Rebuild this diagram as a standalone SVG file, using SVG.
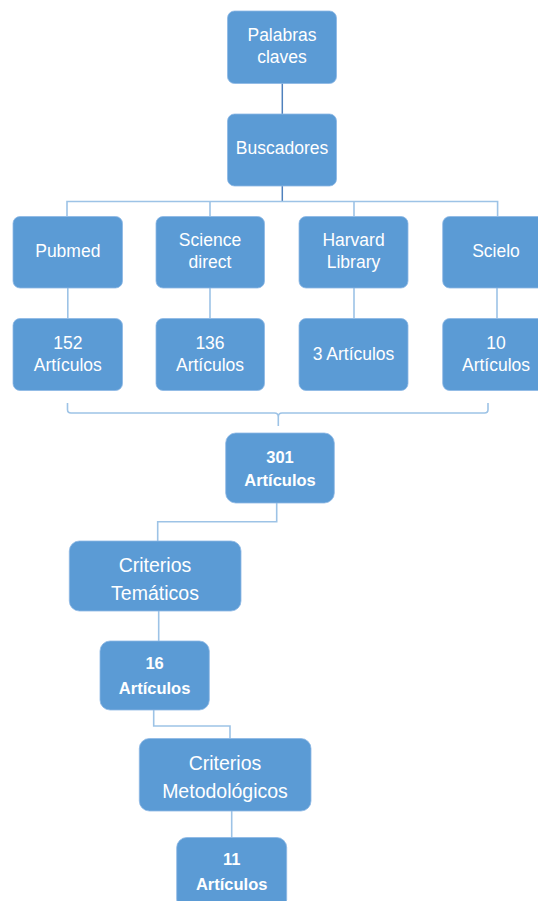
<svg xmlns="http://www.w3.org/2000/svg" width="538" height="901" viewBox="0 0 538 901">
<style>
.box{fill:#5B9BD5;stroke:#8DB8E4;stroke-width:0.8}
.t{fill:#FFFFFF;font-family:"Liberation Sans",Arial,sans-serif;font-size:17.5px;text-anchor:middle}
.b{font-weight:bold;font-size:16.5px}
.big{font-size:19.5px}
.dark{fill:none;stroke:#4F81BD;stroke-width:1.5}
.light{fill:none;stroke:#9DC3E6;stroke-width:1.6}
</style>
<rect width="538" height="901" fill="#FFFFFF"/>
<g id="connectors">
<path class="dark" d="M282.3,83 V114"/>
<path class="dark" d="M282.3,186 V201"/>
<path class="light" d="M67,216 V201.5 H497.6 V216 M210,201.5 V216 M354,201.5 V216"/>
<path class="light" d="M67.8,288 V318 M210,288 V318 M354,288 V318 M497,288 V318"/>
<path class="light" d="M67.5,403 V409.5 Q67.5,413 71,413 H274.5 Q278.3,413 278.3,417 V426 M278.3,417 Q278.3,413 282,413 H484.5 Q488,413 488,409.5 V403"/>
<path class="light" d="M276.7,503 V521.7 H157.7 V541"/>
<path class="light" d="M158.7,611 V641"/>
<path class="light" d="M153.7,710 V726 H230 V738.5"/>
<path class="light" d="M231.7,811 V837.5"/>
</g>
<g id="palabras">
<rect class="box" x="227.5" y="11" width="109" height="72.5" rx="7"/>
<text class="t" x="282" y="41">Palabras</text>
<text class="t" x="282" y="63">claves</text>
</g>
<g id="buscadores">
<rect class="box" x="227.5" y="114" width="109" height="72" rx="7"/>
<text class="t" x="282" y="154">Buscadores</text>
</g>
<g id="pubmed">
<rect class="box" x="13" y="216.5" width="109.5" height="71.5" rx="7"/>
<text class="t" x="67.8" y="257">Pubmed</text>
</g>
<g id="sciencedirect">
<rect class="box" x="156" y="216.5" width="108.5" height="71.5" rx="7"/>
<text class="t" x="210" y="246">Science</text>
<text class="t" x="210" y="268">direct</text>
</g>
<g id="harvard">
<rect class="box" x="299" y="216.5" width="109" height="71.5" rx="7"/>
<text class="t" x="353.5" y="246">Harvard</text>
<text class="t" x="353.5" y="268">Library</text>
</g>
<g id="scielo">
<rect class="box" x="442.7" y="216.5" width="108.5" height="71.5" rx="7"/>
<text class="t" x="496" y="257">Scielo</text>
</g>
<g id="pubmed-n">
<rect class="box" x="13" y="318.5" width="109.5" height="72" rx="7"/>
<text class="t" x="67.8" y="349">152</text>
<text class="t" x="67.8" y="371">Artículos</text>
</g>
<g id="science-n">
<rect class="box" x="156" y="318.5" width="108.5" height="72" rx="7"/>
<text class="t" x="210" y="349">136</text>
<text class="t" x="210" y="371">Artículos</text>
</g>
<g id="harvard-n">
<rect class="box" x="299" y="318.5" width="109" height="72" rx="7"/>
<text class="t" x="353.5" y="359.5">3 Artículos</text>
</g>
<g id="scielo-n">
<rect class="box" x="442.7" y="318.5" width="108.5" height="72" rx="7"/>
<text class="t" x="496" y="349">10</text>
<text class="t" x="496" y="371">Artículos</text>
</g>
<g id="total">
<rect class="box" x="225.7" y="433" width="108.6" height="70" rx="10"/>
<text class="t b" x="280" y="463">301</text>
<text class="t b" x="280" y="486">Artículos</text>
</g>
<g id="tematicos">
<rect class="box" x="69.3" y="541" width="171.7" height="70" rx="10"/>
<text class="t big" x="155" y="572">Criterios</text>
<text class="t big" x="155" y="600">Temáticos</text>
</g>
<g id="n16">
<rect class="box" x="100" y="641" width="109.3" height="69" rx="10"/>
<text class="t b" x="154.6" y="669">16</text>
<text class="t b" x="154.6" y="694">Artículos</text>
</g>
<g id="metodologicos">
<rect class="box" x="139.3" y="738.5" width="171.7" height="72.5" rx="10"/>
<text class="t big" x="225" y="770">Criterios</text>
<text class="t big" x="225" y="798">Metodológicos</text>
</g>
<g id="n11">
<rect class="box" x="176.7" y="837.5" width="110" height="72" rx="10"/>
<text class="t b" x="231.7" y="865">11</text>
<text class="t b" x="231.7" y="890">Artículos</text>
</g>
</svg>
